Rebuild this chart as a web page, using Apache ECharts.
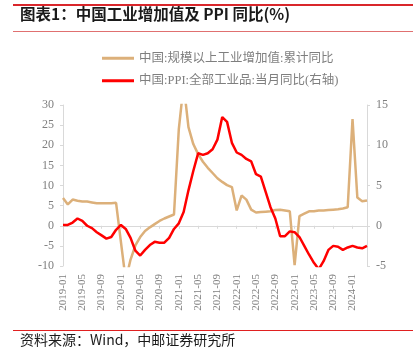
<!DOCTYPE html>
<html>
<head>
<meta charset="utf-8">
<script src="https://cdn.jsdelivr.net/npm/echarts@6/dist/echarts.min.js"></script>
<style>
  html, body { margin: 0; padding: 0; background: #fff; }
  #chart { width: 413px; height: 354px; }
</style>
</head>
<body>
<div id="chart"></div>
<script>
// 月份（2019-01 ~ 2024-04）
let months = [
  '2019-01', '2019-02', '2019-03', '2019-04', '2019-05', '2019-06', '2019-07', '2019-08', '2019-09', '2019-10', '2019-11', '2019-12',
  '2020-01', '2020-02', '2020-03', '2020-04', '2020-05', '2020-06', '2020-07', '2020-08', '2020-09', '2020-10', '2020-11', '2020-12',
  '2021-01', '2021-02', '2021-03', '2021-04', '2021-05', '2021-06', '2021-07', '2021-08', '2021-09', '2021-10', '2021-11', '2021-12',
  '2022-01', '2022-02', '2022-03', '2022-04', '2022-05', '2022-06', '2022-07', '2022-08', '2022-09', '2022-10', '2022-11', '2022-12',
  '2023-01', '2023-02', '2023-03', '2023-04', '2023-05', '2023-06', '2023-07', '2023-08', '2023-09', '2023-10', '2023-11', '2023-12',
  '2024-01', '2024-02', '2024-03', '2024-04'
]

// 规模以上工业增加值:累计同比（左轴）
let ivaYoy = [
  6.9, 5.3, 6.5, 6.2, 6.0, 6.0, 5.8, 5.6, 5.6, 5.6, 5.6, 5.7,
  -4.0, -13.5, -8.4, -4.9, -2.8, -1.3, -0.4, 0.4, 1.2, 1.8, 2.3, 2.8,
  24.0, 35.1, 24.5, 20.3, 17.8, 15.9, 14.4, 13.1, 11.8, 10.9, 10.1, 9.6,
  3.8, 7.5, 6.5, 4.0, 3.3, 3.4, 3.5, 3.6, 3.9, 4.0, 3.8, 3.6,
  -9.8, 2.4, 3.0, 3.6, 3.6, 3.8, 3.8, 3.9, 4.0, 4.1, 4.3, 4.6,
  26.5, 7.0, 6.1, 6.3
]

// PPI:全部工业品:当月同比（右轴）
let ppiYoy = [
  0.1, 0.1, 0.4, 0.9, 0.6, 0.0, -0.3, -0.8, -1.2, -1.6, -1.4, -0.5,
  0.1, -0.4, -1.5, -3.1, -3.7, -3.0, -2.4, -2.0, -2.1, -2.1, -1.5, -0.4,
  0.3, 1.7, 4.4, 6.8, 9.0, 8.8, 9.0, 9.5, 10.7, 13.5, 12.9, 10.3,
  9.1, 8.8, 8.3, 8.0, 6.4, 6.1, 4.2, 2.3, 0.9, -1.3, -1.3, -0.7,
  -0.8, -1.4, -2.5, -3.6, -4.6, -5.4, -4.4, -3.0, -2.5, -2.6, -3.0, -2.7,
  -2.5, -2.7, -2.8, -2.5
]

let seriesNames = ['中国:规模以上工业增加值:累计同比', '中国:PPI:全部工业品:当月同比(右轴)']

let tan = '#DCB07A'
let red = '#FF0000'
let gray = '#7F7F7F'
let axisGray = '#D9D9D9'
let serif = '"Liberation Serif", "Noto Sans CJK SC", serif'

let myChart = echarts.init(document.getElementById('chart'))

let option = {
  animation: false,
  color: [tan, red],
  // 标题和来源用 graphic 画
  graphic: [
    { type: 'rect', shape: { x: 13, y: 4, width: 400, height: 2 }, style: { fill: '#D9262B' } },
    {
      type: 'text', left: 20, top: 6,
      style: { text: '图表1：中国工业增加值及 PPI 同比(%)', font: 'bold 15.5px "Noto Sans CJK SC"', fill: '#1a1a1a' }
    },
    { type: 'rect', shape: { x: 13, y: 31, width: 400, height: 1 }, style: { fill: '#E07070' } },
    { type: 'rect', shape: { x: 13, y: 330, width: 400, height: 1 }, style: { fill: '#E02020' } },
    {
      type: 'text', left: 20, top: 333,
      style: { text: '资料来源：Wind，中邮证券研究所', font: '14px "Noto Sans CJK SC"', fill: '#1a1a1a' }
    }
  ],
  legend: {
    orient: 'vertical',
    left: 97,
    top: 47,
    itemWidth: 32,
    itemHeight: 14,
    itemGap: 10,
    icon: 'path://M0,0 L32,0 L32,3 L0,3 Z',
    textStyle: { color: gray, fontSize: 12.5, fontFamily: serif },
    data: seriesNames
  },
  grid: {
    left: 63,
    right: 46,
    top: 105,
    bottom: 88
  },
  xAxis: [
    {
      // 只显示底部标签
      type: 'category',
      data: months,
      boundaryGap: false,
      position: 'bottom',
      axisLine: { show: false, onZero: false },
      axisTick: { show: false },
      axisLabel: {
        rotate: 90,
        interval: 3,
        margin: 8,
        color: gray,
        fontSize: 11,
        fontFamily: serif
      }
    },
    {
      // 0 轴横线
      type: 'category',
      data: months,
      boundaryGap: false,
      position: 'bottom',
      axisLine: { show: true, onZero: true, onZeroAxisIndex: 0, lineStyle: { color: axisGray } },
      axisTick: { show: true, interval: 3, length: 3, inside: false, lineStyle: { color: axisGray } },
      axisLabel: { show: false }
    }
  ],
  yAxis: [
    {
      type: 'value',
      min: -10,
      max: 30,
      interval: 5,
      axisLine: { show: true, lineStyle: { color: axisGray } },
      axisTick: { show: true, length: 3, lineStyle: { color: axisGray } },
      splitLine: { show: false },
      axisLabel: { color: gray, fontSize: 12, fontFamily: serif, margin: 9 }
    },
    {
      type: 'value',
      min: -5,
      max: 15,
      interval: 5,
      axisLine: { show: true, lineStyle: { color: axisGray } },
      axisTick: { show: true, length: 3, lineStyle: { color: axisGray } },
      splitLine: { show: false },
      axisLabel: { color: gray, fontSize: 12, fontFamily: serif, margin: 9 }
    }
  ],
  series: [
    {
      name: seriesNames[0],
      type: 'line',
      xAxisIndex: 0,
      yAxisIndex: 0,
      data: ivaYoy,
      symbol: 'none',
      clip: true,
      lineStyle: { width: 2.5, color: tan }
    },
    {
      name: seriesNames[1],
      type: 'line',
      xAxisIndex: 0,
      yAxisIndex: 1,
      data: ppiYoy,
      symbol: 'none',
      clip: true,
      lineStyle: { width: 2.5, color: red }
    }
  ]
}

myChart.setOption(option)
</script>
</body>
</html>
